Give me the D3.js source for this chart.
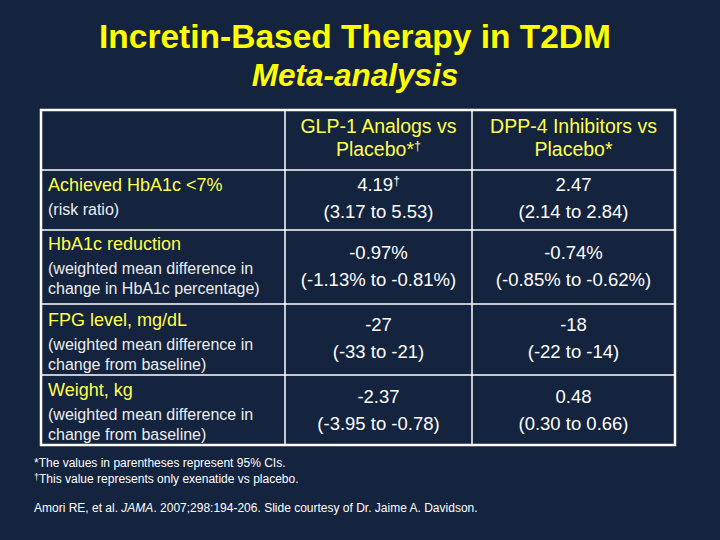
<!DOCTYPE html>
<html>
<head>
<meta charset="utf-8">
<script src="https://cdn.jsdelivr.net/npm/d3@7"></script>
<style>
  body { margin: 0; background: #14233e; }
  svg { display: block; font-family: "Liberation Sans", Arial, sans-serif; }
</style>
</head>
<body>
<div id="chart"></div>
<script>
(function(d3) {
  'use strict';

  var columns = ['GLP-1 Analogs vs|Placebo*\u2020', 'DPP-4 Inhibitors vs|Placebo*'];
  var measures = ['Achieved HbA1c <7%', 'HbA1c reduction', 'FPG level, mg/dL', 'Weight, kg'];
  var notes = ['(risk ratio)',
               '(weighted mean difference in|change in HbA1c percentage)',
               '(weighted mean difference in|change from baseline)',
               '(weighted mean difference in|change from baseline)'];
  var glp1 = ['4.19\u2020', '-0.97%', '-27', '-2.37'];
  var glp1_ci = ['(3.17 to 5.53)', '(-1.13% to -0.81%)', '(-33 to -21)', '(-3.95 to -0.78)'];
  var dpp4 = ['2.47', '-0.74%', '-18', '0.48'];
  var dpp4_ci = ['(2.14 to 2.84)', '(-0.85% to -0.62%)', '(-22 to -14)', '(0.30 to 0.66)'];

  var width = 720;
  var height = 540;
  var yellow = '#ffff4d';

  var svg = d3.select('#chart')
    .append('svg')
    .attr('width', width)
    .attr('height', height);

  svg.append('rect')
    .attr('width', width)
    .attr('height', height)
    .attr('fill', '#14233e');

  // write text, making a trailing dagger small and raised
  function dagger(sel, str, size) {
    var parts = str.split('\u2020');
    sel.append('tspan').text(parts[0]);
    if (parts.length > 1) {
      sel.append('tspan')
        .attr('font-size', size * 0.65)
        .attr('dy', -size * 0.3)
        .text('\u2020');
    }
  }

  // title
  svg.append('text')
    .attr('x', 355).attr('y', 48)
    .attr('text-anchor', 'middle')
    .attr('font-size', 33.5).attr('font-weight', 'bold')
    .attr('fill', '#ffff00')
    .text('Incretin-Based Therapy in T2DM');
  svg.append('text')
    .attr('x', 355).attr('y', 86)
    .attr('text-anchor', 'middle')
    .attr('font-size', 31.5).attr('font-weight', 'bold').attr('font-style', 'italic')
    .attr('fill', '#ffff00')
    .text('Meta-analysis');

  // table grid
  var colEdges = [41, 285, 472, 675];
  var rowEdges = [110, 170, 230, 304, 375, 445];

  var x = d3.scaleOrdinal().domain([0, 1, 2]).range([48,
    (colEdges[1] + colEdges[2]) / 2, (colEdges[2] + colEdges[3]) / 2]);

  var grid = svg.append('g').attr('stroke', '#ffffff').attr('fill', 'none');
  rowEdges.slice(1, -1).forEach(function(y) {
    grid.append('line')
      .attr('x1', colEdges[0]).attr('x2', colEdges[3])
      .attr('y1', y).attr('y2', y)
      .attr('stroke-width', 1.5);
  });
  colEdges.slice(1, -1).forEach(function(cx) {
    grid.append('line')
      .attr('x1', cx).attr('x2', cx)
      .attr('y1', rowEdges[0]).attr('y2', rowEdges[5])
      .attr('stroke-width', 1.5);
  });
  grid.append('rect')
    .attr('x', colEdges[0]).attr('y', rowEdges[0])
    .attr('width', colEdges[3] - colEdges[0])
    .attr('height', rowEdges[5] - rowEdges[0])
    .attr('stroke-width', 2.5);

  // header
  columns.forEach(function(c, i) {
    c.split('|').forEach(function(line, j) {
      svg.append('text')
        .attr('x', x(i + 1)).attr('y', 133 + j * 23)
        .attr('text-anchor', 'middle')
        .attr('font-size', 19.5)
        .attr('fill', yellow)
        .call(dagger, line, 19.5);
    });
  });

  var labelY = [191, 250, 326, 396];
  var valueY = [191, 259, 331, 403];

  var rows = svg.selectAll('.row')
    .data(measures)
    .enter().append('g')
    .attr('class', 'row');

  rows.append('text')
    .attr('x', x(0))
    .attr('y', function(d, i) { return labelY[i]; })
    .attr('font-size', 18)
    .attr('fill', yellow)
    .text(function(d) { return d; });

  rows.each(function(d, i) {
    var g = d3.select(this);
    notes[i].split('|').forEach(function(line, j) {
      g.append('text')
        .attr('x', x(0))
        .attr('y', labelY[i] + 24 + j * 20)
        .attr('font-size', 16)
        .attr('fill', '#ededed')
        .text(line);
    });
    [[glp1, glp1_ci], [dpp4, dpp4_ci]].forEach(function(s, k) {
      g.append('text')
        .attr('x', x(k + 1)).attr('y', valueY[i])
        .attr('text-anchor', 'middle')
        .attr('font-size', 18.5)
        .attr('fill', '#ffffff')
        .call(dagger, s[0][i], 18.5);
      g.append('text')
        .attr('x', x(k + 1)).attr('y', valueY[i] + 27)
        .attr('text-anchor', 'middle')
        .attr('font-size', 18.5)
        .attr('fill', '#ffffff')
        .text(s[1][i]);
    });
  });

  // footnotes
  var foot = svg.append('g').attr('fill', '#ffffff').attr('font-size', 12);
  foot.append('text').attr('x', 34).attr('y', 467)
    .text('*The values in parentheses represent 95% CIs.');
  var f2 = foot.append('text').attr('x', 34).attr('y', 483);
  f2.append('tspan').attr('font-size', 9).attr('dy', -3).text('\u2020');
  f2.append('tspan').attr('dy', 3).text('This value represents only exenatide vs placebo.');
  var cite = foot.append('text').attr('x', 34).attr('y', 512);
  cite.append('tspan').text('Amori RE, et al. ');
  cite.append('tspan').attr('font-style', 'italic').text('JAMA');
  cite.append('tspan').text('. 2007;298:194-206. Slide courtesy of Dr. Jaime A. Davidson.');
})(window.d3);
</script>
</body>
</html>
